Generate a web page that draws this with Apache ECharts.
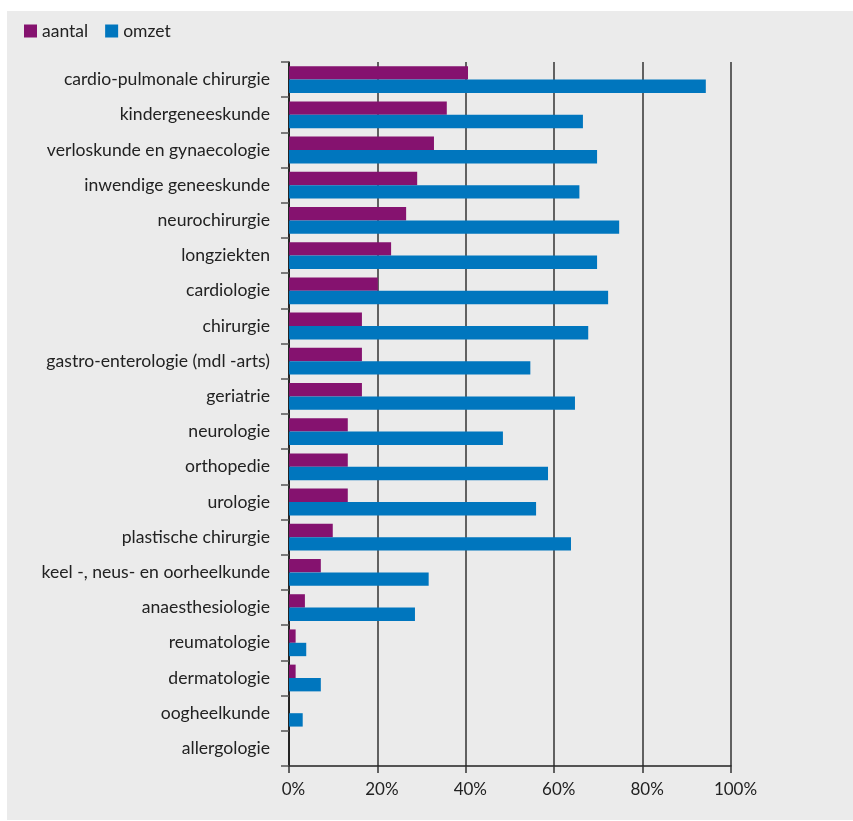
<!DOCTYPE html>
<html>
<head>
<meta charset="utf-8">
<script src="https://cdn.jsdelivr.net/npm/echarts@6/dist/echarts.min.js"></script>
<style>
  html, body { margin: 0; padding: 0; background: #ffffff; }
  #wrap { position: relative; width: 853px; height: 821px; background: #ffffff; }
  #panel { position: absolute; left: 7px; top: 11px; right: 0; bottom: 1px; background: #ebebeb; }
  #chart { position: absolute; left: 0; top: 0; width: 853px; height: 821px; }
</style>
</head>
<body>
<div id="wrap">
  <div id="panel"></div>
  <div id="chart"></div>
</div>
<script>
// Specialismen, van boven naar beneden
const categories = [
  'cardio-pulmonale chirurgie',
  'kindergeneeskunde',
  'verloskunde en gynaecologie',
  'inwendige geneeskunde',
  'neurochirurgie',
  'longziekten',
  'cardiologie',
  'chirurgie',
  'gastro-enterologie (mdl -arts)',
  'geriatrie',
  'neurologie',
  'orthopedie',
  'urologie',
  'plastische chirurgie',
  'keel -, neus- en oorheelkunde',
  'anaesthesiologie',
  'reumatologie',
  'dermatologie',
  'oogheelkunde',
  'allergologie'
];

// Aandeel in procenten
const aantal = [40.5, 35.7, 32.8, 29.0, 26.5, 23.1, 20.1, 16.5, 16.5, 16.5,
                13.3, 13.3, 13.3, 9.9, 7.2, 3.6, 1.5, 1.5, 0, 0];
const omzet  = [94.3, 66.5, 69.7, 65.7, 74.7, 69.7, 72.2, 67.7, 54.6, 64.7,
                48.4, 58.6, 55.9, 63.8, 31.6, 28.5, 3.9, 7.2, 3.1, 0];

const xTicks = [0, 20, 40, 60, 80, 100];
const seriesNames = ['aantal', 'omzet'];
const colors = ['#85126f', '#0076be'];

const font = 'Lato, "Open Sans", sans-serif';
const chart = echarts.init(document.getElementById('chart'), null, { renderer: 'canvas' });

chart.setOption({
  animation: false,
  backgroundColor: 'transparent',
  color: colors,
  textStyle: { fontFamily: font },
  legend: {
    left: 19,
    top: 17,
    itemWidth: 13,
    itemHeight: 13,
    itemGap: 17,
    icon: 'rect',
    textStyle: { fontSize: 17.5, color: '#222', fontFamily: font },
    data: seriesNames
  },
  grid: { left: 289, right: 122, top: 62, bottom: 55, containLabel: false },
  xAxis: {
    type: 'value',
    min: xTicks[0],
    max: xTicks[xTicks.length - 1],
    interval: 20,
    axisLine: { show: true, lineStyle: { color: '#222', width: 1.5 } },
    axisTick: { show: true, length: 7, lineStyle: { color: '#333', width: 1.5 } },
    splitLine: { show: true, lineStyle: { color: '#333', width: 1.5 } },
    axisLabel: {
      formatter: '{value}%',
      fontSize: 17,
      color: '#222',
      margin: 15,
      padding: [0, 0, 0, 9],
      fontFamily: font
    }
  },
  yAxis: {
    type: 'category',
    inverse: true,
    data: categories,
    axisLine: { show: true, lineStyle: { color: '#111', width: 1.5 } },
    axisTick: { show: true, length: 8, lineStyle: { color: '#555', width: 1.5 } },
    splitLine: { show: false },
    axisLabel: { fontSize: 17.6, color: '#222', margin: 19, fontFamily: font }
  },
  series: [
    {
      name: seriesNames[0],
      type: 'bar',
      data: aantal,
      barGap: '0%',
      barCategoryGap: '24%',
      itemStyle: { color: colors[0] }
    },
    {
      name: seriesNames[1],
      type: 'bar',
      data: omzet,
      barGap: '0%',
      barCategoryGap: '24%',
      itemStyle: { color: colors[1] }
    }
  ]
});
</script>
</body>
</html>
